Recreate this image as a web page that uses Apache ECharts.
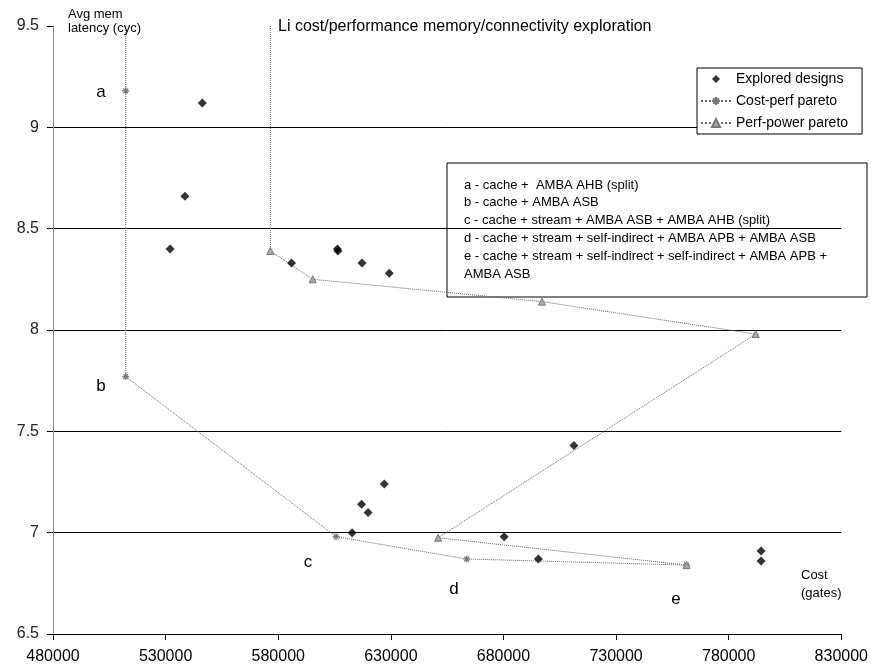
<!DOCTYPE html>
<html>
<head>
    <meta charset="utf-8">
    <script src="https://cdn.jsdelivr.net/npm/echarts@6/dist/echarts.min.js"></script>
</head>
<body>
    <div id="main"></div>
    <style>
html,body { margin: 0; padding: 0; background: #fff; }
#main { width: 871px; height: 671px; }
    </style>
    <script type="text/javascript">
// explored designs (cost in gates, avg mem latency in cycles)
var exploredCost = [546300, 538600, 532000, 585900, 606300, 606500, 617200, 629300,
                    627100, 617000, 619900, 612800, 680300, 695500, 711300, 794400, 794400];
var exploredLat  = [9.12, 8.66, 8.40, 8.33, 8.40, 8.39, 8.33, 8.28,
                    7.24, 7.14, 7.10, 7.00, 6.98, 6.87, 7.43, 6.91, 6.86];

// cost-perf pareto, first point is where the line leaves the top of the plot
var costParetoCost = [512300, 512300, 512300, 605700, 663700, 761300];
var costParetoLat  = [9.5, 9.18, 7.77, 6.98, 6.87, 6.84];

// perf-power pareto
var powerParetoCost = [576500, 576500, 595300, 697100, 792000, 651000, 761300];
var powerParetoLat  = [9.5, 8.39, 8.25, 8.14, 7.98, 6.975, 6.84];

var xTicks = { min: 480000, max: 830000, step: 50000 };
var yTicks = { min: 6.5, max: 9.5, step: 0.5 };

var noteLines = [
    'a - cache +  AMBA AHB (split)',
    'b - cache + AMBA ASB',
    'c - cache + stream + AMBA ASB + AMBA AHB (split)',
    'd - cache + stream + self-indirect + AMBA APB + AMBA ASB',
    'e - cache + stream + self-indirect + self-indirect + AMBA APB +',
    'AMBA ASB'
];

var FONT = '"Liberation Sans", Arial, sans-serif';
var asterisk = 'path://M0,5L10,5M5,0L5,10M1.5,1.5L8.5,8.5M8.5,1.5L1.5,8.5';
// small diamond in the middle of a wide box, for the legend
var legendDiamond = 'path://M0,5L0.01,5M11,5L15,1L19,5L15,9ZM29.99,5L30,5';

function pairs(xs, ys) {
    return xs.map(function (x, i) {
        if (i === 0) return { value: [x, ys[i]], symbol: 'none' };
        return [x, ys[i]];
    });
}

function txt(x, y, s, size, align) {
    return {
        type: 'text', z: 110,
        style: {
            x: x, y: y, text: s, fill: '#000',
            font: size + 'px ' + FONT,
            align: align || 'left', verticalAlign: 'middle',
            textAlign: align || 'left', textVerticalAlign: 'middle'
        }
    };
}

var graphics = [
    txt(68, 14, 'Avg mem', 13),
    txt(68, 28, 'latency (cyc)', 13),
    txt(278, 27, 'Li cost/performance memory/connectivity exploration', 16),
    txt(801, 575, 'Cost', 13),
    txt(801, 593, '(gates)', 13),
    txt(101, 92, 'a', 17, 'center'),
    txt(101, 386, 'b', 17, 'center'),
    txt(308, 562, 'c', 17, 'center'),
    txt(454, 589, 'd', 17, 'center'),
    txt(676, 599, 'e', 17, 'center')
];

var noteChildren = [{
    type: 'rect',
    shape: { x: 0, y: 0, width: 420, height: 134 },
    style: { fill: '#fff', stroke: '#000', lineWidth: 1 }
}];
noteLines.forEach(function (s, i) {
    noteChildren.push({
        type: 'text',
        style: {
            x: 17, y: 22 + i * 17.8, text: s, fill: '#000',
            font: '13px ' + FONT,
            align: 'left', verticalAlign: 'middle',
            textAlign: 'left', textVerticalAlign: 'middle'
        }
    });
});
graphics.push({ type: 'group', x: 447, y: 163, z: 100, children: noteChildren });

var option = {
    animation: false,
    backgroundColor: '#fff',
    textStyle: { fontFamily: FONT },
    grid: { left: 53, right: 28, top: 26, bottom: 37, containLabel: false },
    legend: {
        orient: 'vertical',
        left: 697, top: 68,
        padding: [4, 14, 4, 3],
        itemWidth: 30, itemHeight: 10, itemGap: 8,
        borderColor: '#000', borderWidth: 1,
        backgroundColor: '#fff',
        textStyle: { fontSize: 14, color: '#000', lineHeight: 14 },
        z: 100,
        data: [
            { name: 'Explored designs', icon: legendDiamond },
            'Cost-perf pareto',
            'Perf-power pareto'
        ]
    },
    xAxis: {
        type: 'value',
        min: xTicks.min, max: xTicks.max, interval: xTicks.step,
        axisLine: { lineStyle: { color: '#000', width: 1 } },
        axisTick: { show: true, length: 6, lineStyle: { color: '#000' } },
        axisLabel: {
            fontSize: 16, color: '#000', margin: 15,
            formatter: function (v) { return String(v); }
        },
        splitLine: { show: false }
    },
    yAxis: {
        type: 'value',
        min: yTicks.min, max: yTicks.max, interval: yTicks.step,
        axisLine: { show: true, lineStyle: { color: '#888', width: 1 } },
        axisTick: { show: true, length: 6, lineStyle: { color: '#000' } },
        axisLabel: { fontSize: 16, color: '#222', margin: 14 },
        splitLine: { show: true, showMaxLine: false, lineStyle: { color: '#000', width: 1 } }
    },
    series: [
        {
            name: 'Explored designs',
            type: 'scatter',
            symbol: 'diamond',
            symbolSize: 9,
            itemStyle: { color: '#000' },
            data: exploredCost.map(function (x, i) { return [x, exploredLat[i]]; }),
            z: 5
        },
        {
            name: 'Cost-perf pareto',
            type: 'line',
            symbol: asterisk,
            symbolSize: 7,
            showAllSymbol: true,
            lineStyle: { color: '#666', width: 1, type: 'dotted' },
            itemStyle: { color: '#999', borderColor: '#777', borderWidth: 1.2 },
            data: pairs(costParetoCost, costParetoLat),
            z: 3
        },
        {
            name: 'Perf-power pareto',
            type: 'line',
            symbol: 'triangle',
            symbolSize: 7,
            showAllSymbol: true,
            lineStyle: { color: '#666', width: 1, type: 'dotted' },
            itemStyle: { color: '#aaa', borderColor: '#777', borderWidth: 1 },
            data: pairs(powerParetoCost, powerParetoLat),
            z: 3
        }
    ],
    graphic: graphics
};

var chart = echarts.init(document.getElementById('main'));
chart.setOption(option);
    </script>
</body>
</html>
